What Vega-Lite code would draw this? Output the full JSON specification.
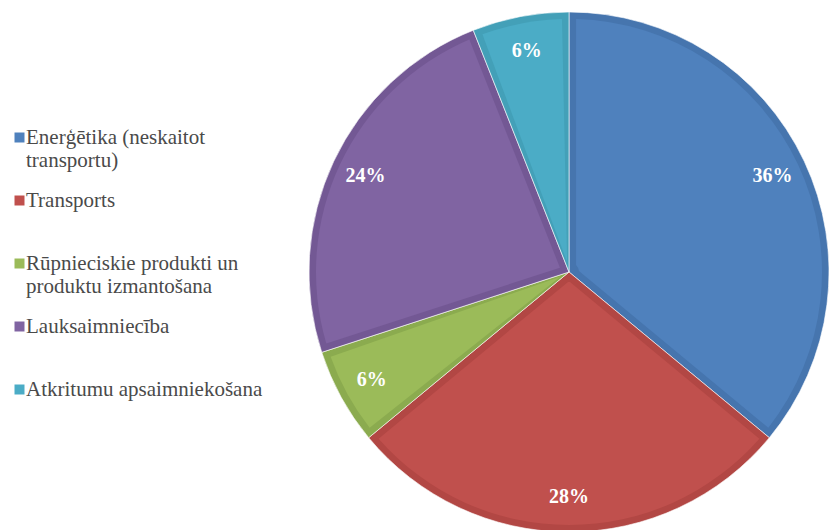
{
  "$schema": "https://vega.github.io/schema/vega-lite/v6.json",
  "width": 520,
  "height": 520,
  "autosize": {"type": "none"},
  "padding": {"left": 309, "top": 12, "right": 0, "bottom": 0},
  "background": "white",
  "config": {"view": {"stroke": null}, "font": "Liberation Serif"},
  "data": {
    "values": [
      {"category": "Enerģētika (neskaitot transportu)", "share": 0.36, "order": 1},
      {"category": "Transports", "share": 0.28, "order": 2},
      {"category": "Rūpnieciskie produkti un produktu izmantošana", "share": 0.06, "order": 3},
      {"category": "Lauksaimniecība", "share": 0.24, "order": 4},
      {"category": "Atkritumu apsaimniekošana", "share": 0.06, "order": 5}
    ]
  },
  "encoding": {
    "theta": {"field": "share", "type": "quantitative", "stack": true},
    "order": {"field": "order", "type": "quantitative"}
  },
  "layer": [
    {
      "mark": {"type": "arc", "outerRadius": 260, "stroke": "white", "strokeWidth": 0.6},
      "encoding": {
        "color": {
          "field": "category",
          "type": "nominal",
          "scale": {
            "domain": ["Enerģētika (neskaitot transportu)", "Transports", "Rūpnieciskie produkti un produktu izmantošana", "Lauksaimniecība", "Atkritumu apsaimniekošana"],
            "range": ["#4675AE", "#B24744", "#8BAB4F", "#735894", "#43A0B8"]
          },
          "legend": null
        }
      }
    },
    {
      "mark": {"type": "arc", "outerRadius": 253, "innerRadius": 10, "padAngle": 0.0557},
      "encoding": {
        "color": {
          "field": "category",
          "type": "nominal",
          "scale": {
            "domain": ["Enerģētika (neskaitot transportu)", "Transports", "Rūpnieciskie produkti un produktu izmantošana", "Lauksaimniecība", "Atkritumu apsaimniekošana"],
            "range": ["#4F81BD", "#C0504D", "#9BBB59", "#8064A2", "#4BACC6"]
          },
          "legend": {
            "orient": "none",
            "legendX": -300,
            "legendY": 115,
            "title": null,
            "symbolType": "square",
            "symbolSize": 100,
            "symbolStrokeWidth": 0,
            "labelFont": "Liberation Serif",
            "labelFontSize": 21,
            "labelColor": "#4a4a4a",
            "labelLimit": 400,
            "labelBaseline": "top",
            "labelOffset": -4,
            "gridAlign": "all",
            "rowPadding": 18,
            "labelExpr": "datum.label == 'Enerģētika (neskaitot transportu)' ? ['Enerģētika (neskaitot', 'transportu)'] : datum.label == 'Rūpnieciskie produkti un produktu izmantošana' ? ['Rūpnieciskie produkti un', 'produktu izmantošana'] : datum.label",
            "encode": {"labels": {"update": {"dy": {"value": -11}, "lineHeight": {"value": 23}}}}
          }
        }
      }
    },
    {
      "mark": {"type": "text", "radius": 225, "font": "Liberation Serif", "fontSize": 20, "fontWeight": "bold", "color": "white"},
      "encoding": {
        "text": {"field": "share", "type": "quantitative", "format": ".0%"}
      }
    }
  ],
  "resolve": {"scale": {"color": "independent"}}
}
